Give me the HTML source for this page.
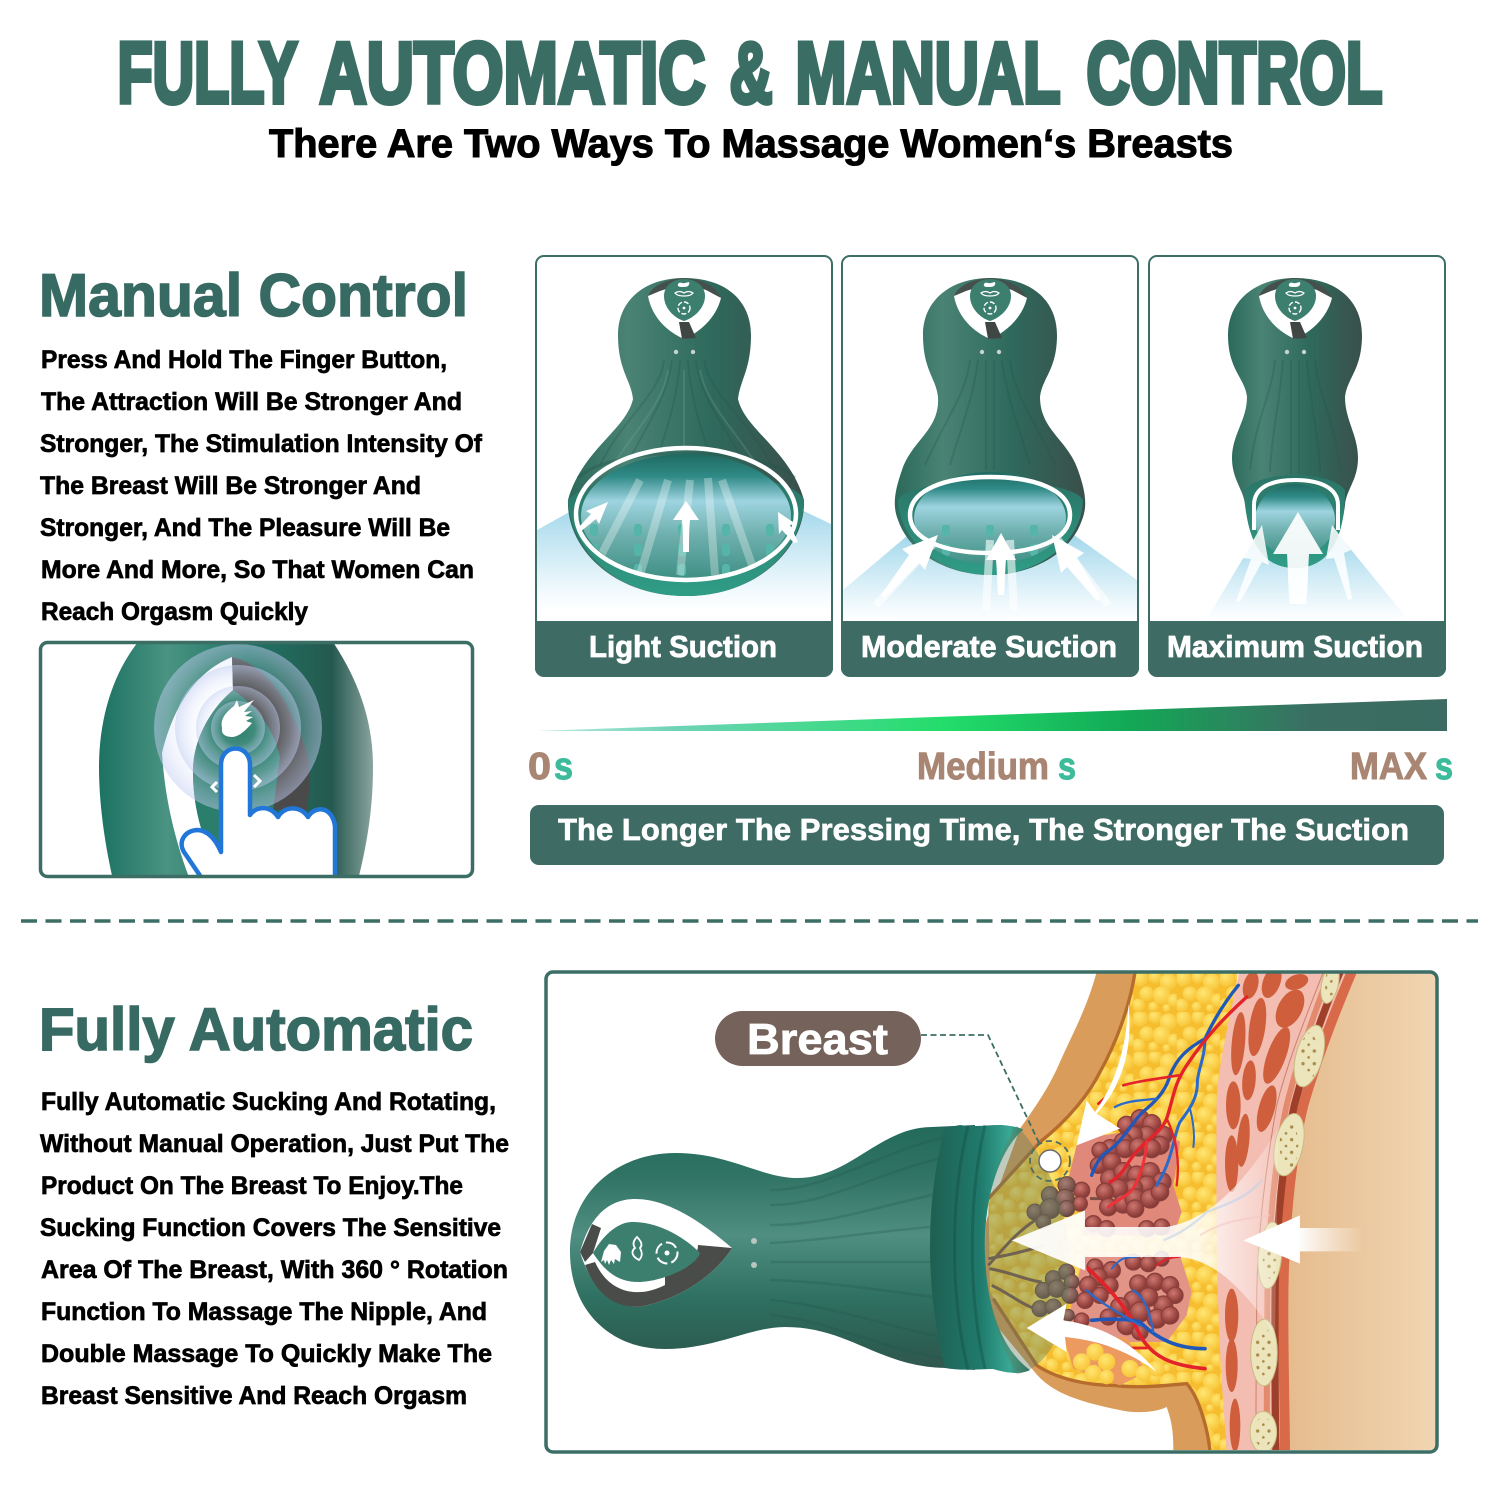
<!DOCTYPE html>
<html><head><meta charset="utf-8"><style>
html,body{margin:0;padding:0;background:#fff;width:1500px;height:1500px;overflow:hidden}
svg{display:block}
text{font-family:"Liberation Sans",sans-serif;font-weight:bold}
.b{font-size:25px;fill:#000;stroke:#000;stroke-width:.7}
.h{font-size:60px;fill:#376a62;stroke:#376a62;stroke-width:1.6}
.l{font-size:31px;fill:#fff;stroke:#fff;stroke-width:.8}
.t{font-size:38px;fill:#a98673;stroke:#a98673;stroke-width:1}
.s{font-size:38px;fill:#3dbb9a;stroke:#3dbb9a;stroke-width:1}
.T{font-size:86px;fill:#3a6e65;stroke:#3a6e65;stroke-width:5}
</style></head><body>
<svg width="1500" height="1500" viewBox="0 0 1500 1500" xmlns="http://www.w3.org/2000/svg">
<defs>
<linearGradient id="dg" x1="0" y1="0" x2="1" y2="0"><stop offset="0" stop-color="#2b695b"/><stop offset=".25" stop-color="#4a8374"/><stop offset=".6" stop-color="#2f6a5d"/><stop offset="1" stop-color="#3a4f4a"/></linearGradient>
<linearGradient id="dh" x1="0" y1="0" x2="0" y2="1"><stop offset="0" stop-color="#236a5b"/><stop offset=".2" stop-color="#2f7364"/><stop offset=".45" stop-color="#4f8e80"/><stop offset=".7" stop-color="#2f7162"/><stop offset=".9" stop-color="#2c5e52"/><stop offset="1" stop-color="#32574e"/></linearGradient>
<linearGradient id="fb" x1="0" y1="0" x2="1" y2="0"><stop offset="0" stop-color="#1c7262"/><stop offset=".25" stop-color="#4a9382"/><stop offset=".55" stop-color="#1f7464"/><stop offset=".85" stop-color="#25594f"/><stop offset="1" stop-color="#8aa49f"/></linearGradient>
<linearGradient id="bar" x1="0" y1="0" x2="1" y2="0"><stop offset="0" stop-color="#b9ece0"/><stop offset=".15" stop-color="#6fd3b8"/><stop offset=".45" stop-color="#22dd6a"/><stop offset=".65" stop-color="#12a956"/><stop offset=".85" stop-color="#3b6e63"/><stop offset="1" stop-color="#3b6b62"/></linearGradient>
<linearGradient id="blue" x1="0" y1="0" x2="0" y2="1"><stop offset="0" stop-color="#97d2e8"/><stop offset=".4" stop-color="#c4e6f3"/><stop offset=".85" stop-color="#f3fafd"/><stop offset="1" stop-color="#fff"/></linearGradient>
<linearGradient id="inner" x1="0" y1="0" x2="0" y2="1"><stop offset="0" stop-color="#1f6a62"/><stop offset=".18" stop-color="#2f8a86"/><stop offset=".38" stop-color="#9ed4e0"/><stop offset=".65" stop-color="#6fb0ae"/><stop offset="1" stop-color="#3f9085"/></linearGradient>
<linearGradient id="rim" x1="0" y1="0" x2="0" y2="1"><stop offset="0" stop-color="#2b7466"/><stop offset="1" stop-color="#2f9d87"/></linearGradient>
<linearGradient id="back" x1="0" y1="0" x2="1" y2="0"><stop offset="0" stop-color="#e3b787"/><stop offset="1" stop-color="#f1d5b2"/></linearGradient>
<linearGradient id="wa" x1="0" y1="0" x2="1" y2="0"><stop offset="0" stop-color="#fff" stop-opacity=".95"/><stop offset=".7" stop-color="#fff" stop-opacity=".85"/><stop offset="1" stop-color="#fff" stop-opacity=".15"/></linearGradient>
<linearGradient id="wb" x1="0" y1="0" x2="1" y2="0"><stop offset="0" stop-color="#fff"/><stop offset=".45" stop-color="#fff"/><stop offset="1" stop-color="#fff" stop-opacity="0"/></linearGradient>
<linearGradient id="col" x1="0" y1="0" x2="1" y2="0"><stop offset="0" stop-color="#1f5f52"/><stop offset=".5" stop-color="#1f7a6c"/><stop offset=".8" stop-color="#3aa894"/><stop offset="1" stop-color="#1e6d60"/></linearGradient>
<radialGradient id="lob" cx=".4" cy=".35" r=".7"><stop offset="0" stop-color="#cc7870"/><stop offset=".6" stop-color="#a04a46"/><stop offset="1" stop-color="#7a3431"/></radialGradient>
<radialGradient id="lob2" cx=".4" cy=".35" r=".7"><stop offset="0" stop-color="#a67f74"/><stop offset=".6" stop-color="#825b53"/><stop offset="1" stop-color="#5e3e39"/></radialGradient>
<radialGradient id="ball" cx=".4" cy=".35" r=".7"><stop offset="0" stop-color="#ffe673"/><stop offset="1" stop-color="#f7c233"/></radialGradient>
<radialGradient id="ripple" cx=".5" cy=".5" r=".5"><stop offset="0" stop-color="#fff" stop-opacity="0"/><stop offset=".62" stop-color="#dfe6fb" stop-opacity=".05"/><stop offset="1" stop-color="#c0ccf2" stop-opacity=".5"/></radialGradient>
<pattern id="fat" width="130" height="120" patternUnits="userSpaceOnUse"><rect width="130" height="120" fill="#f6bd2f"/><circle cx="20" cy="20" r="24" fill="url(#ball)"/><circle cx="65" cy="15" r="20" fill="url(#ball)"/><circle cx="105" cy="30" r="26" fill="url(#ball)"/><circle cx="40" cy="65" r="22" fill="url(#ball)"/><circle cx="85" cy="70" r="27" fill="url(#ball)"/><circle cx="122" cy="85" r="20" fill="url(#ball)"/><circle cx="15" cy="100" r="20" fill="url(#ball)"/><circle cx="60" cy="104" r="15" fill="url(#ball)"/><circle cx="100" cy="108" r="12" fill="url(#ball)"/></pattern>
<pattern id="nub" width="44" height="20" patternUnits="userSpaceOnUse"><rect x="18" y="4" width="8" height="12" rx="3" fill="#55b5a9"/></pattern>
<pattern id="dotp" width="34" height="38" patternUnits="userSpaceOnUse"><circle cx="9" cy="9" r="5" fill="#a88b4a"/><circle cx="26" cy="28" r="4" fill="#a88b4a"/></pattern>
<clipPath id="c1"><rect x="537" y="257" width="294" height="364"/></clipPath>
<clipPath id="c2"><rect x="843" y="257" width="294" height="364"/></clipPath>
<clipPath id="c3"><rect x="1150" y="257" width="294" height="364"/></clipPath>
<clipPath id="cf"><rect x="42" y="644" width="429" height="231" rx="5"/></clipPath>
<clipPath id="cb"><rect x="547" y="973" width="889" height="477" rx="6"/></clipPath>
<clipPath id="e1"><ellipse cx="686" cy="516" rx="105" ry="62"/></clipPath>
<clipPath id="e2"><ellipse cx="990" cy="518" rx="76" ry="46"/></clipPath>
<g id="head">
<path d="M648 296C652 288 666 281 684 279C702 281 716 288 721 298C716 318 700 332 684 339C668 332 652 318 648 296Z" fill="#fff"/>
<path d="M648 296C652 286 666 279 684 278C702 279 716 286 721 298L706 290C695 286 673 286 660 291Z" fill="#45504c"/>
<path d="M679 322L689 322L696 338L682 339Z" fill="#3f4643"/>
<path d="M684 279C694 279 705 285 705 296C705 308 694 318 684 321C674 318 664 308 664 296C664 285 674 279 684 279Z" fill="#3d7f6f"/>
<path d="M678 284c2-3 4 0 7-1l4-1c1 3-1 5-5 5s-7 0-6-3z" fill="#fff"/>
<path d="M675 293c3-2 6-2 9 0 3-2 6-2 9 0-3 4-15 4-18 0z" fill="none" stroke="#fff" stroke-width="1.200"/>
<circle cx="684" cy="308" r="6" fill="none" stroke="#fff" stroke-width="1.400" stroke-dasharray="5 2"/><circle cx="684" cy="308" r="1.400" fill="#fff"/>
<circle cx="676" cy="352" r="2.200" fill="#c7d3cf"/><circle cx="693" cy="352" r="2.200" fill="#c7d3cf"/>
</g>
</defs>

<rect width="1500" height="1500" fill="#fff"/>
<text class="T" x="117.500" y="102.500" textLength="180" lengthAdjust="spacingAndGlyphs">FULLY</text>
<text class="T" x="319.500" y="102.500" textLength="386" lengthAdjust="spacingAndGlyphs">AUTOMATIC</text>
<text class="T" x="729.500" y="102.500" textLength="43" lengthAdjust="spacingAndGlyphs">&amp;</text>
<text class="T" x="795.500" y="102.500" textLength="265" lengthAdjust="spacingAndGlyphs">MANUAL</text>
<text class="T" x="1086.500" y="102.500" textLength="296" lengthAdjust="spacingAndGlyphs">CONTROL</text>
<text x="269" y="157" font-size="40" fill="#000" stroke="#000" stroke-width="1.100" textLength="964" lengthAdjust="spacingAndGlyphs">There Are Two Ways To Massage Women‘s Breasts</text>

<text class="h" x="39" y="316" textLength="429" lengthAdjust="spacingAndGlyphs">Manual Control</text>
<text class="b" x="41" y="368" textLength="406" lengthAdjust="spacingAndGlyphs">Press And Hold The Finger Button,</text>
<text class="b" x="41" y="410" textLength="421" lengthAdjust="spacingAndGlyphs">The Attraction Will Be Stronger And</text>
<text class="b" x="40" y="452" textLength="442" lengthAdjust="spacingAndGlyphs">Stronger, The Stimulation Intensity Of</text>
<text class="b" x="40" y="494" textLength="381" lengthAdjust="spacingAndGlyphs">The Breast Will Be Stronger And</text>
<text class="b" x="40" y="536" textLength="410" lengthAdjust="spacingAndGlyphs">Stronger, And The Pleasure Will Be</text>
<text class="b" x="41" y="578" textLength="433" lengthAdjust="spacingAndGlyphs">More And More, So That Women Can</text>
<text class="b" x="41" y="620" textLength="267" lengthAdjust="spacingAndGlyphs">Reach Orgasm Quickly</text>

<!-- finger panel -->
<g clip-path="url(#cf)">
<path d="M138 642C112 675 99 720 99 767C99 805 105 845 113 880H358C368 840 373 805 373 767C373 720 358 680 333 642Z" fill="url(#fb)"/>
<path d="M232 657C200 670 175 700 162 753C165 800 175 840 190 880H225C205 850 192 810 193 767C195 735 212 708 233 690Z" fill="#fff"/>
<path d="M232 657C270 665 295 710 310 763C310 780 309 795 307 810H273L280 757C272 725 255 705 233 690Z" fill="#4a4a4a"/>
<path d="M233 690C212 708 195 735 193 767C192 810 205 850 225 880H270L273 810L280 757C272 725 255 705 233 690Z" fill="#2b7e6c"/>
<circle cx="238" cy="728" r="84" fill="url(#ripple)"/><circle cx="238" cy="728" r="63" fill="url(#ripple)"/><circle cx="238" cy="728" r="42" fill="url(#ripple)"/><circle cx="238" cy="728" r="27" fill="url(#ripple)"/>
<path d="M222 728c-2-9 4-16 12-22l3-6 2 7 15-7-10 12 8-1-7 5 8 1-7 4 6 2c-6 7-12 13-19 14-8 0-12-3-11-9z" fill="#fff"/>
<path d="M217 782l-5 5 5 5M254 775l6 6-6 6" fill="none" stroke="#fff" stroke-width="3"/>
<path d="M203 880L184 852C178 842 184 831 197 830C208 830 216 840 221 852V765C221 743 250 743 250 765V815C256 806 270 805 278 817C284 806 300 805 308 817C314 806 332 805 335 826V880Z" fill="#fff" stroke="#2176d8" stroke-width="4.500" stroke-linejoin="round"/>
</g>
<rect x="40.500" y="642.500" width="432" height="234" rx="7" fill="none" stroke="#3c6e66" stroke-width="3.500"/>

<!-- Panel 1 -->
<rect x="536" y="256" width="296" height="420" rx="8" fill="#fff" stroke="#3c6e66" stroke-width="2"/>
<g clip-path="url(#c1)">
<path d="M537 530L600 495H770L831 524V610H537Z" fill="url(#blue)"/>
<path d="M684 278C725 278 751 300 751 335C751 370 740 380 738 399C745 430 790 450 804 500C806 545 760 596 686 596C610 596 566 545 568 500C582 450 626 430 633 399C631 380 618 370 618 335C618 300 645 278 684 278Z" fill="url(#dg)"/>
<g stroke="#1f5549" stroke-opacity=".28" stroke-width="2" fill="none"><path d="M664 360C660 395 625 415 600 465M672 360C668 395 650 420 632 455M680 360C678 395 668 425 660 450M688 360C690 395 700 425 708 450M696 360C700 395 720 420 740 455M704 360C710 395 745 415 772 465"/></g>
<g stroke="#77ab9c" stroke-opacity=".25" stroke-width="2" fill="none"><path d="M668 370C664 400 640 425 615 462M684 370V450M700 370C705 400 730 425 755 462"/></g>
<path d="M578 478C610 445 760 445 795 478" fill="none" stroke="#21554a" stroke-opacity=".35" stroke-width="3"/>
<path d="M568 500C570 545 612 596 686 596C760 596 804 545 804 500C790 465 600 465 568 500Z" fill="url(#rim)"/>
<ellipse cx="686" cy="516" rx="105" ry="62" fill="url(#inner)"/>
<g clip-path="url(#e1)"><rect x="590" y="520" width="190" height="60" fill="url(#nub)"/>
<path d="M596 565L640 480M640 575L668 480M680 575L690 480M715 575L708 478M752 565L722 480" stroke="#fff" stroke-opacity=".3" stroke-width="8" fill="none"/></g>
<ellipse cx="686" cy="514" rx="110" ry="66" fill="none" stroke="#fff" stroke-width="4.500"/>
<path d="M686 501l-13 19h9c1 10 1 22 1 32h6c0-10 0-22 1-32h9z" fill="#fff"/>
<path d="M608 502l-22 9 5 3-14 15 3 3 16-13 3 5z" fill="#fff"/>
<path d="M778 512l18 12-6 1 8 17-4 1-12-13-3 4z" fill="#fff"/>
<use href="#head"/>
</g>
<path d="M535 621H833V668a8 8 0 0 1-8 8H543a8 8 0 0 1-8-8Z" fill="#3e6b63"/>
<text class="l" x="589" y="657" textLength="188" lengthAdjust="spacingAndGlyphs">Light Suction</text>

<!-- Panel 2 -->
<rect x="842" y="256" width="296" height="420" rx="8" fill="#fff" stroke="#3c6e66" stroke-width="2"/>
<g clip-path="url(#c2)">
<path d="M843 590L920 525H1060L1137 580V622H843Z" fill="url(#blue)"/>
<path d="M990 278C1031 278 1057 300 1057 335C1057 370 1042 378 1040 397C1040 430 1068 440 1078 470C1085 490 1088 505 1082 520C1070 555 1030 575 990 575C950 575 910 555 898 520C892 505 895 490 902 470C912 440 940 430 938 397C936 378 923 370 923 335C923 300 951 278 990 278Z" fill="url(#dg)"/>
<g stroke="#1f5549" stroke-opacity=".28" stroke-width="2" fill="none"><path d="M970 360C966 395 945 420 925 465M978 360C974 395 962 425 950 465M986 360V470M994 360V470M1002 360C1006 395 1018 425 1030 465M1010 360C1014 395 1035 420 1055 465"/></g>
<path d="M898 500C900 545 945 575 990 575C1035 575 1082 545 1083 500C1070 475 910 475 898 500Z" fill="url(#rim)"/>
<ellipse cx="990" cy="518" rx="76" ry="46" fill="url(#inner)"/>
<g clip-path="url(#e2)"><rect x="930" y="525" width="120" height="40" fill="url(#nub)"/></g>
<path d="M910 515C910 490 945 477 990 477C1035 477 1070 490 1070 515C1070 540 1035 553 990 553C945 553 910 540 910 515Z" fill="none" stroke="#fff" stroke-width="4.500"/>
<path d="M876 605L935 542M986 610L990 540M1014 610L1010 540M1108 605L1058 540" stroke="#fff" stroke-opacity=".6" stroke-width="8" fill="none"/>
<path d="M1001 533l-15 27h10c1 10 1 22 2 35h6c1-13 1-25 2-35h10z" fill="#fff"/>
<path d="M938 535l-36 14 7 6-28 40 4 3 34-35 6 7z" fill="#fff"/>
<path d="M1052 535l32 18-7 5 24 40-4 3-30-34-6 6z" fill="#fff"/>
<use href="#head" x="306"/>
</g>
<path d="M841 621H1139V668a8 8 0 0 1-8 8H849a8 8 0 0 1-8-8Z" fill="#3e6b63"/>
<text class="l" x="861" y="657" textLength="256" lengthAdjust="spacingAndGlyphs">Moderate Suction</text>

<!-- Panel 3 -->
<rect x="1149" y="256" width="296" height="420" rx="8" fill="#fff" stroke="#3c6e66" stroke-width="2"/>
<g clip-path="url(#c3)">
<path d="M1205 622L1260 530H1335L1410 622Z" fill="url(#blue)"/>
<path d="M1295 278C1336 278 1362 300 1362 335C1362 370 1347 378 1345 397C1345 420 1358 435 1358 458C1358 480 1346 490 1345 505C1340 545 1325 568 1295 568C1265 568 1250 545 1245 505C1244 490 1232 480 1232 458C1232 435 1247 420 1247 397C1245 378 1228 370 1228 335C1228 300 1256 278 1295 278Z" fill="url(#dg)"/>
<g stroke="#1f5549" stroke-opacity=".28" stroke-width="2" fill="none"><path d="M1275 360C1272 395 1255 420 1250 470M1283 360C1281 395 1272 430 1270 472M1291 360V474M1299 360V474M1307 360C1309 395 1318 430 1320 472M1315 360C1318 395 1335 420 1340 470"/></g>
<path d="M1245 490C1245 545 1265 568 1295 568C1325 568 1345 545 1345 490C1330 470 1260 470 1245 490Z" fill="url(#rim)"/>
<ellipse cx="1295" cy="520" rx="40" ry="36" fill="url(#inner)"/>
<path d="M1254 530V505C1254 488 1270 480 1295 480C1320 480 1338 488 1338 505V530" fill="none" stroke="#fff" stroke-width="4"/>
<path d="M1298 512l-25 42h14c1 15 1 35 3 50h16c2-15 2-35 3-50h14z" fill="#fff" fill-opacity=".92"/>
<path d="M1262 525l-19 33 8 1-15 42 4 1 22-40 7 3zM1332 525l-6 34 8-1 14 42 4-1-8-46 7-3z" fill="#fff" fill-opacity=".85"/>
<use href="#head" x="611"/>
</g>
<path d="M1148 621H1446V668a8 8 0 0 1-8 8H1156a8 8 0 0 1-8-8Z" fill="#3e6b63"/>
<text class="l" x="1167" y="657" textLength="256" lengthAdjust="spacingAndGlyphs">Maximum Suction</text>

<!-- ramp -->
<path d="M536 731L1447 699V731Z" fill="url(#bar)"/>
<text class="t" x="528" y="779" textLength="23" lengthAdjust="spacingAndGlyphs">0</text><text class="s" x="554" y="779" textLength="19" lengthAdjust="spacingAndGlyphs">s</text>
<text class="t" x="917" y="779" textLength="132" lengthAdjust="spacingAndGlyphs">Medium</text><text class="s" x="1058" y="779" textLength="18" lengthAdjust="spacingAndGlyphs">s</text>
<text class="t" x="1350" y="779" textLength="77" lengthAdjust="spacingAndGlyphs">MAX</text><text class="s" x="1435" y="779" textLength="18" lengthAdjust="spacingAndGlyphs">s</text>
<rect x="530" y="805" width="914" height="60" rx="9" fill="#3e6b63"/>
<text x="558" y="840" font-size="31" fill="#fff" stroke="#fff" stroke-width=".7" textLength="851" lengthAdjust="spacing">The Longer The Pressing Time, The Stronger The Suction</text>

<!-- divider -->
<line x1="21" y1="921" x2="1478" y2="921" stroke="#3c6e66" stroke-width="3.500" stroke-dasharray="16 8.500"/>

<text class="h" x="39" y="1050" textLength="434" lengthAdjust="spacingAndGlyphs">Fully Automatic</text>
<text class="b" x="41" y="1110" textLength="455" lengthAdjust="spacingAndGlyphs">Fully Automatic Sucking And Rotating,</text>
<text class="b" x="40" y="1152" textLength="469" lengthAdjust="spacingAndGlyphs">Without Manual Operation, Just Put The</text>
<text class="b" x="41" y="1194" textLength="422" lengthAdjust="spacingAndGlyphs">Product On The Breast To Enjoy.The</text>
<text class="b" x="40" y="1236" textLength="461" lengthAdjust="spacingAndGlyphs">Sucking Function Covers The Sensitive</text>
<text class="b" x="41" y="1278" textLength="467" lengthAdjust="spacingAndGlyphs">Area Of The Breast, With 360 ° Rotation</text>
<text class="b" x="41" y="1320" textLength="446" lengthAdjust="spacingAndGlyphs">Function To Massage The Nipple, And</text>
<text class="b" x="41" y="1362" textLength="451" lengthAdjust="spacingAndGlyphs">Double Massage To Quickly Make The</text>
<text class="b" x="41" y="1404" textLength="426" lengthAdjust="spacingAndGlyphs">Breast Sensitive And Reach Orgasm</text>

<!-- bottom panel -->
<rect x="547" y="973" width="889" height="477" fill="#fff"/>
<g clip-path="url(#cb)">
<g transform="translate(960 972) scale(.33333)">
<rect x="900" y="0" width="530" height="1440" fill="url(#back)"/>
<path d="M410 0C380 110 340 180 300 270C270 340 230 400 180 470L60 800 100 1050 220 1195C270 1260 350 1290 500 1318C560 1325 600 1315 620 1305C640 1360 640 1400 640 1440H800V0Z" fill="#d99c5b"/>
<path d="M525 0C510 100 470 210 420 300C390 360 330 440 240 510L85 680 90 960 230 1180C290 1220 380 1240 460 1240C540 1250 620 1240 680 1235C720 1280 745 1380 750 1440H800L775 1000 770 400 835 0Z" fill="url(#fat)"/>
<path d="M525 0C510 100 470 210 420 300C390 360 330 440 240 510L85 680M100 980L230 1180C290 1220 380 1240 460 1240C540 1250 620 1240 680 1235C720 1280 745 1380 750 1440" fill="none" stroke="#b56c2c" stroke-width="10"/>
<path d="M350 520C400 480 600 460 660 510L640 640 665 720 640 790H370V700L320 640Z" fill="#e0897a"/>
<path d="M370 850H660L695 960 680 1030 620 1110H500L310 1100Z" fill="#e29586"/>
<path d="M310 1095H500L560 1200 480 1240 340 1190Z" fill="#ec9a5f"/>
<g fill="url(#ball)"><circle cx="365" cy="1170" r="26"/><circle cx="405" cy="1140" r="26"/><circle cx="440" cy="1170" r="26"/><circle cx="400" cy="1205" r="26"/><circle cx="440" cy="1215" r="22"/><circle cx="510" cy="1190" r="26"/><circle cx="550" cy="1205" r="24"/><circle cx="590" cy="1190" r="24"/></g>
<path d="M838 0C810 130 770 300 770 400C768 640 770 900 775 1000C780 1200 795 1350 800 1440H985C980 1200 975 800 1010 560C1040 380 1120 180 1185 0Z" fill="#f3bdb2"/>
<g fill="#cf5f3c"><ellipse cx="835" cy="215" rx="20" ry="95" transform="rotate(5 835 215)"/><ellipse cx="892" cy="165" rx="24" ry="88" transform="rotate(8 892 165)"/><ellipse cx="990" cy="110" rx="36" ry="62" transform="rotate(28 990 110)"/><ellipse cx="872" cy="40" rx="22" ry="42" transform="rotate(15 872 40)"/><ellipse cx="820" cy="400" rx="22" ry="72"/><ellipse cx="867" cy="325" rx="20" ry="60" transform="rotate(5 867 325)"/><ellipse cx="950" cy="250" rx="28" ry="90" transform="rotate(20 950 250)"/><ellipse cx="850" cy="505" rx="18" ry="80" transform="rotate(5 850 505)"/><ellipse cx="920" cy="410" rx="24" ry="72" transform="rotate(15 920 410)"/><ellipse cx="815" cy="575" rx="20" ry="85"/><ellipse cx="815" cy="1030" rx="20" ry="80"/><ellipse cx="815" cy="1180" rx="18" ry="80"/><ellipse cx="825" cy="1360" rx="16" ry="80"/><ellipse cx="935" cy="30" rx="26" ry="50" transform="rotate(20 935 30)"/><ellipse cx="1010" cy="30" rx="36" ry="22" transform="rotate(-20 1010 30)"/></g>
<g fill="none"><path d="M1175 0C1120 130 1070 260 1030 400C990 560 970 800 970 1000C970 1200 975 1350 975 1440" stroke="#d86a4a" stroke-width="30"/><path d="M1140 0C1085 130 1040 260 1003 400C968 560 945 800 945 1000C945 1200 945 1350 948 1440" stroke="#9e4029" stroke-width="22"/><path d="M1110 0C1060 130 1015 260 980 400C945 560 922 800 922 1000C922 1200 918 1350 922 1440" stroke="#e28a6b" stroke-width="18"/><path d="M1090 0C1040 130 985 260 950 400C915 600 890 800 890 1000C890 1200 885 1350 890 1440" stroke="#c9826a" stroke-width="3"/></g>
<g fill="#ece4ba" stroke="#c9ba80" stroke-width="3"><ellipse cx="1110" cy="35" rx="25" ry="60" transform="rotate(12 1110 35)"/><ellipse cx="1048" cy="252" rx="40" ry="95" transform="rotate(15 1048 252)"/><ellipse cx="987" cy="518" rx="42" ry="95" transform="rotate(12 987 518)"/><ellipse cx="930" cy="850" rx="35" ry="100" transform="rotate(5 930 850)"/><ellipse cx="912" cy="1142" rx="40" ry="100"/><ellipse cx="910" cy="1380" rx="40" ry="62"/></g>
<g fill="url(#dotp)"><ellipse cx="1110" cy="35" rx="15" ry="40"/><ellipse cx="1048" cy="252" rx="26" ry="70"/><ellipse cx="987" cy="518" rx="28" ry="70"/><ellipse cx="930" cy="850" rx="22" ry="70"/><ellipse cx="912" cy="1142" rx="28" ry="75"/><ellipse cx="910" cy="1380" rx="28" ry="45"/></g>
<g fill="none" stroke="#7a5046" stroke-width="9"><path d="M85 880C130 830 170 780 225 745M85 860C140 850 190 840 250 820M88 890C150 900 200 925 245 930M95 940C140 960 190 1000 225 1010M350 660H390M390 680H420"/></g>
<g fill="url(#lob)" stroke="#8a3f3b" stroke-width="4"><circle cx="500" cy="460" r="27"/><circle cx="540" cy="440" r="27"/><circle cx="575" cy="455" r="27"/><circle cx="610" cy="490" r="27"/><circle cx="600" cy="520" r="27"/><circle cx="560" cy="490" r="27"/><circle cx="520" cy="490" r="27"/><circle cx="490" cy="510" r="27"/><circle cx="450" cy="530" r="27"/><circle cx="420" cy="535" r="24"/><circle cx="415" cy="580" r="24"/><circle cx="455" cy="570" r="27"/><circle cx="495" cy="530" r="27"/><circle cx="535" cy="525" r="27"/><circle cx="575" cy="530" r="27"/><circle cx="450" cy="620" r="28"/><circle cx="490" cy="600" r="28"/><circle cx="530" cy="610" r="28"/><circle cx="570" cy="600" r="28"/><circle cx="605" cy="630" r="28"/><circle cx="560" cy="640" r="28"/><circle cx="520" cy="650" r="28"/><circle cx="475" cy="650" r="28"/><circle cx="435" cy="660" r="26"/><circle cx="445" cy="705" r="26"/><circle cx="490" cy="695" r="28"/><circle cx="525" cy="680" r="30"/><circle cx="570" cy="680" r="28"/><circle cx="600" cy="660" r="26"/><circle cx="525" cy="710" r="26"/><circle cx="365" cy="655" r="24"/><circle cx="360" cy="695" r="22"/><circle cx="400" cy="755" r="24"/><circle cx="440" cy="770" r="24"/><circle cx="560" cy="770" r="24"/><circle cx="605" cy="765" r="24"/><circle cx="520" cy="870" r="24"/><circle cx="565" cy="875" r="24"/><circle cx="605" cy="860" r="22"/><circle cx="405" cy="885" r="24"/><circle cx="455" cy="895" r="26"/><circle cx="415" cy="915" r="26"/><circle cx="385" cy="940" r="26"/><circle cx="450" cy="940" r="24"/><circle cx="375" cy="985" r="24"/><circle cx="420" cy="970" r="24"/><circle cx="535" cy="935" r="26"/><circle cx="585" cy="930" r="26"/><circle cx="630" cy="940" r="26"/><circle cx="645" cy="970" r="24"/><circle cx="610" cy="1000" r="28"/><circle cx="565" cy="975" r="28"/><circle cx="520" cy="985" r="28"/><circle cx="480" cy="1005" r="28"/><circle cx="540" cy="1020" r="30"/><circle cx="590" cy="1040" r="28"/><circle cx="630" cy="1030" r="26"/><circle cx="500" cy="1060" r="28"/><circle cx="445" cy="1035" r="24"/><circle cx="365" cy="1045" r="22"/><circle cx="540" cy="1080" r="24"/></g>
<g fill="url(#lob2)" stroke="#6a4840" stroke-width="3"><circle cx="320" cy="640" r="26"/><circle cx="270" cy="670" r="26"/><circle cx="315" cy="680" r="28"/><circle cx="225" cy="720" r="24"/><circle cx="270" cy="710" r="30"/><circle cx="320" cy="710" r="24"/><circle cx="250" cy="750" r="22"/><circle cx="280" cy="920" r="24"/><circle cx="320" cy="900" r="24"/><circle cx="250" cy="955" r="24"/><circle cx="290" cy="950" r="26"/><circle cx="335" cy="930" r="22"/><circle cx="330" cy="970" r="24"/><circle cx="240" cy="1010" r="24"/><circle cx="280" cy="1005" r="24"/><circle cx="325" cy="1030" r="18"/></g>
<g fill="none" stroke-linecap="round"><path d="M835 40C770 120 740 190 735 200C680 230 650 260 630 310C620 350 590 385 560 410C520 440 490 510 440 540C420 555 405 580 395 610" stroke="#2158b8" stroke-width="10"/><path d="M735 200C735 260 710 300 712 340C710 380 690 410 660 450C640 490 640 560 590 640" stroke="#2b6ac8" stroke-width="9"/><path d="M465 405C500 385 550 385 590 380" stroke="#2b6ac8" stroke-width="7"/><path d="M690 410C700 450 705 490 700 525" stroke="#2b6ac8" stroke-width="6"/><path d="M860 75C800 130 740 190 680 280C640 340 640 380 620 440C600 490 540 510 500 580C480 610 470 620 450 630" stroke="#e4222a" stroke-width="10"/><path d="M655 310C600 320 540 325 490 340M445 370L415 395" stroke="#e4222a" stroke-width="8"/><path d="M620 440C650 500 660 570 650 640" stroke="#e4222a" stroke-width="7"/><path d="M560 510C555 580 530 640 510 660C490 680 460 690 445 705" stroke="#ee3238" stroke-width="9"/><path d="M735 1190C640 1180 580 1160 540 1090C510 1020 450 950 385 890" stroke="#e4222a" stroke-width="11"/><path d="M735 1130C650 1130 590 1100 540 1050C510 1040 440 1040 395 1045" stroke="#2158b8" stroke-width="11"/><path d="M580 1080C570 1030 560 980 520 955M540 1060C490 1030 430 1000 380 955" stroke="#2b6ac8" stroke-width="7"/><path d="M560 1128H480L410 1108" stroke="#e4222a" stroke-width="8"/><path d="M455 890C480 860 490 855 530 855" stroke="#2b6ac8" stroke-width="6"/><path d="M590 880C610 860 640 855 660 855" stroke="#e4222a" stroke-width="6"/></g>
</g>
<!-- device -->
<path d="M570 1252C570 1190 620 1153 675 1153C730 1153 760 1178 798 1178C850 1178 880 1127 932 1127L975 1125V1370L948 1368C880 1368 850 1327 785 1327C750 1327 715 1349 665 1349C610 1349 570 1310 570 1252Z" fill="url(#dh)"/>
<g stroke="#1f5549" stroke-opacity=".26" stroke-width="2.500" fill="none"><path d="M770 1190C830 1190 880 1150 955 1135M770 1205C830 1205 880 1170 955 1155M770 1225C830 1225 880 1205 955 1190M770 1243C830 1240 880 1230 955 1225M770 1262H955M770 1280C830 1282 880 1290 955 1300M770 1300C830 1305 880 1325 955 1340M770 1315C830 1320 880 1350 955 1360"/></g>
<path d="M960 1125C980 1128 995 1123 1010 1126C1018 1127 1023 1129 1023 1130C997 1152 983 1205 985 1255C987 1305 1000 1348 1030 1370C1020 1375 1007 1373 993 1369C980 1369 960 1371 945 1368C925 1290 925 1200 945 1128Z" fill="url(#col)"/>
<path d="M968 1126C950 1200 950 1295 968 1370M985 1125C968 1200 968 1295 985 1369" stroke="#123f36" stroke-opacity=".3" stroke-width="3" fill="none"/>
<path d="M1017 1126C1060 1170 1078 1250 1067 1305C1060 1345 1040 1370 1017 1374C1000 1345 985 1300 985 1255C985 1205 997 1152 1017 1126Z" fill="#5f7d60" fill-opacity=".4"/>
<!-- arrows over the collar overlay -->
<g transform="translate(960 972) scale(.33333)">
<path d="M155 805L375 715V765H620C760 740 860 620 955 470L945 1090C860 960 760 855 650 855H375V895Z" fill="url(#wa)"/>
<path d="M905 625C860 680 790 700 740 720C700 760 650 790 610 805" fill="none" stroke="#bcd2ec" stroke-opacity=".6" stroke-width="7"/>
<path d="M930 730C860 740 790 745 720 790" fill="none" stroke="#f4c6c6" stroke-opacity=".6" stroke-width="6"/>
<path d="M850 805L1020 730V768H1210V838H1020V875Z" fill="url(#wb)"/>
<path d="M505 95C520 220 490 340 410 425L480 470 350 520 380 385 405 420C470 330 500 220 505 95Z" fill="#fff"/>
<path d="M200 1068L320 995 310 1045C420 1060 520 1110 590 1200C510 1140 420 1105 315 1095L320 1140Z" fill="#fff"/>
</g>
<!-- button -->
<path d="M580 1252C590 1215 610 1199 635 1199C670 1199 705 1225 732 1248C715 1275 680 1300 638 1307C610 1307 590 1285 580 1252Z" fill="#fff"/>
<path d="M698 1245L732 1248C715 1275 680 1300 638 1307C610 1307 595 1290 585 1265L595 1262C610 1295 640 1298 665 1285V1275C690 1268 698 1255 698 1245Z" fill="#4a4c4a"/>
<path d="M580 1252L592 1224L601 1228L593 1253L585 1262Z" fill="#4a4c4a"/>
<path d="M593 1253C605 1232 620 1222 632 1222C660 1222 685 1238 700 1253C695 1268 660 1282 638 1282C615 1282 603 1268 593 1253Z" fill="#3d7f6f"/>
<path d="M601 1262l3-11 5-7 7 1 5 7-1 10-5-3-1 5-3-4-2 5-2-5-2 4-1-4z" fill="#fff"/>
<path d="M637 1237c4 4 6 8 3 11 2 4 3 8-1 12-6-3-9-8-4-12-3-4-1-8 2-11z" fill="none" stroke="#fff" stroke-width="1.800"/>
<circle cx="667" cy="1253" r="10.500" fill="none" stroke="#fff" stroke-width="2" stroke-dasharray="12 4"/><circle cx="667" cy="1253" r="2.500" fill="#fff"/>
<circle cx="754" cy="1241" r="3" fill="#b8c6c2"/><circle cx="754" cy="1265" r="3" fill="#b8c6c2"/>
<circle cx="1050" cy="1161" r="11" fill="#fff" stroke="#6a6a6a" stroke-width="1.500"/>
<circle cx="1050" cy="1161" r="20" fill="none" stroke="#4b6e66" stroke-width="1.800" stroke-dasharray="6 4"/>
</g>
<path d="M921 1035H988L1040 1145" fill="none" stroke="#3c6e66" stroke-width="1.800" stroke-dasharray="6 3.500"/>
<rect x="715" y="1011" width="206" height="55" rx="27.500" fill="#75625a"/>
<text x="747" y="1054" font-size="44" fill="#fff" stroke="#fff" stroke-width=".8" textLength="141" lengthAdjust="spacingAndGlyphs">Breast</text>
<rect x="546" y="972" width="891" height="480" rx="7" fill="none" stroke="#3c6e66" stroke-width="3.500"/>
</svg>
</body></html>
